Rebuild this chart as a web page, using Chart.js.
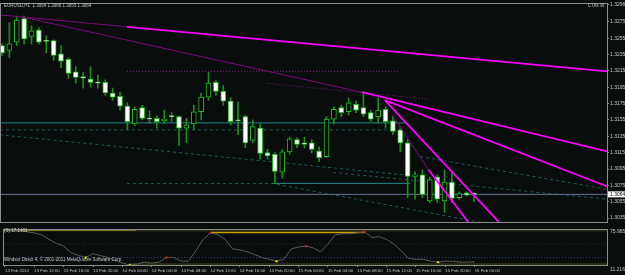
<!DOCTYPE html>
<html>
<head>
<meta charset="utf-8">
<script src="https://cdn.jsdelivr.net/npm/chart.js@4.4.1/dist/chart.umd.min.js"></script>
<style>
html, body { margin: 0; padding: 0; background: #090d0c; }
#wrap { width: 625px; height: 275px; overflow: hidden; }
canvas { display: block; }
</style>
</head>
<body>
<div id="wrap">
  <canvas id="priceChart" width="625" height="226"></canvas>
  <canvas id="oscChart" width="625" height="49"></canvas>
</div>
<script>
// EURUSD H1, 13 Feb 08:00 .. 16 Feb 00:00 (bar index 0..64)
var timeTicks = [0, 4, 8, 12, 16, 20, 24, 28, 32, 36, 40, 44, 48, 52, 56, 60, 64];
var timeLabels = ['13 Feb 2012', '13 Feb 12:00', '13 Feb 16:00', '13 Feb 20:00', '14 Feb 00:00', '14 Feb 04:00',
  '14 Feb 08:00', '14 Feb 12:00', '14 Feb 16:00', '14 Feb 20:00', '15 Feb 00:00', '15 Feb 04:00', '15 Feb 08:00',
  '15 Feb 12:00', '15 Feb 16:00', '15 Feb 20:00', '16 Feb 00:00'];

var opens  = [1.3246, 1.3240, 1.3250, 1.3279, 1.3257, 1.3265, 1.3252, 1.3252, 1.3236, 1.3229, 1.3214, 1.3208, 1.3205,
  1.3201, 1.3201, 1.3188, 1.3184, 1.3172, 1.3150, 1.3170, 1.3157, 1.3157, 1.3154, 1.3159, 1.3159, 1.3145, 1.3150,
  1.3165, 1.3183, 1.3201, 1.3190, 1.3178, 1.3155, 1.3159, 1.3130, 1.3145, 1.3115, 1.3113, 1.3091, 1.3116, 1.3131,
  1.3127, 1.3127, 1.3117, 1.3110, 1.3156, 1.3170, 1.3165, 1.3174, 1.3170, 1.3164, 1.3159, 1.3168, 1.3154, 1.3143,
  1.3127, 1.3086, 1.3088, 1.3056, 1.3085, 1.3056, 1.3079, 1.3060, 1.3066, 1.3064];
var highs  = [1.3248, 1.3274, 1.3282, 1.3282, 1.3270, 1.3268, 1.3258, 1.3253, 1.3246, 1.3231, 1.3220, 1.3213, 1.3220,
  1.3210, 1.3204, 1.3194, 1.3189, 1.3176, 1.3171, 1.3173, 1.3166, 1.3160, 1.3167, 1.3164, 1.3160, 1.3157, 1.3173,
  1.3188, 1.3213, 1.3203, 1.3197, 1.3182, 1.3177, 1.3161, 1.3155, 1.3150, 1.3119, 1.3115, 1.3119, 1.3134, 1.3133,
  1.3134, 1.3131, 1.3122, 1.3159, 1.3171, 1.3173, 1.3182, 1.3178, 1.3189, 1.3167, 1.3182, 1.3171, 1.3159, 1.3147,
  1.3131, 1.3092, 1.3094, 1.3085, 1.3088, 1.3094, 1.3091, 1.3067, 1.3067, 1.3066];
var lows   = [1.3234, 1.3231, 1.3246, 1.3248, 1.3248, 1.3248, 1.3237, 1.3228, 1.3219, 1.3206, 1.3200, 1.3194, 1.3195,
  1.3194, 1.3185, 1.3179, 1.3167, 1.3143, 1.3148, 1.3155, 1.3151, 1.3145, 1.3151, 1.3153, 1.3124, 1.3127, 1.3143,
  1.3155, 1.3179, 1.3185, 1.3173, 1.3149, 1.3137, 1.3121, 1.3127, 1.3107, 1.3107, 1.3077, 1.3084, 1.3113, 1.3121,
  1.3121, 1.3115, 1.3104, 1.3109, 1.3150, 1.3159, 1.3161, 1.3164, 1.3159, 1.3153, 1.3151, 1.3145, 1.3137, 1.3116,
  1.3060, 1.3058, 1.3060, 1.3054, 1.3054, 1.3042, 1.3054, 1.3058, 1.3062, 1.3055];
var closes = [1.3237, 1.3248, 1.3277, 1.3254, 1.3264, 1.3250, 1.3251, 1.3234, 1.3227, 1.3212, 1.3207, 1.3206, 1.3201,
  1.3200, 1.3188, 1.3183, 1.3172, 1.3153, 1.3168, 1.3157, 1.3156, 1.3153, 1.3156, 1.3159, 1.3145, 1.3149, 1.3165,
  1.3183, 1.3200, 1.3190, 1.3178, 1.3153, 1.3154, 1.3127, 1.3147, 1.3114, 1.3111, 1.3092, 1.3116, 1.3132, 1.3125,
  1.3125, 1.3119, 1.3109, 1.3156, 1.3168, 1.3164, 1.3176, 1.3167, 1.3162, 1.3156, 1.3167, 1.3153, 1.3141, 1.3127,
  1.3086, 1.3088, 1.3064, 1.3082, 1.3058, 1.3079, 1.3059, 1.3065, 1.3063, 1.3064];

var lastPrice = 1.3064;
var priceTicks = [1.3296, 1.3275, 1.3255, 1.3235, 1.3215, 1.3195, 1.3175, 1.3155, 1.3135, 1.3115, 1.3095, 1.3075,
  1.3055, 1.3035];

// oscillator, one value per bar
var oscValues = [75.9856, 74.2, 74.2, 72.5, 70.7, 67.2, 58.5, 51.5, 46.2, 34.0, 28.7, 25.2, 32.2, 28.7, 25.2, 20.0,
  14.7, 11.2164, 13.0, 16.5, 14.7, 16.5, 25.2, 25.2, 18.2, 18.2, 37.5, 58.5, 70.7, 67.2, 58.5, 41.0, 39.2, 35.7, 30.5,
  25.2, 21.7, 18.2, 21.7, 41.0, 44.5, 46.2, 42.7, 35.7, 49.7, 67.2, 69.0, 69.0, 70.7, 72.5, 62.0, 63.7, 58.5, 49.7,
  37.5, 23.5, 21.7, 21.7, 18.2, 16.5, 18.2, 18.2, 16.5, 16.5, 17.1481];
var oscLowMarks = [11, 17, 37, 59];
var oscHighMarks = [22, 28, 41, 49];
var oscMin = 11.2164, oscMax = 75.9856;
var oscLevels = [50, 25];

// drawn objects: [bar index, price] end points
var trendThick = [
  [[16.95, 1.32689], [82.03, 1.32144]],
  [[48.8, 1.31889], [82.2, 1.31162]],
  [[51.9, 1.31792], [82.2, 1.30732]],
  [[51.9, 1.31792], [67.5, 1.30290]],
  [[57.8, 1.30944], [63.3, 1.30290]]
];
var trendThin = [
  [[-0.3, 1.32835], [16.95, 1.32689]],
  [[2.7, 1.32811], [48.8, 1.31889]],
  [[52.9, 1.31611], [57.8, 1.30944]]
];
var dottedPurple = [
  [[16.95, 1.32144], [54.0, 1.32144]],
  [[35.9, 1.31998], [57.8, 1.31805]]
];
var tealSolid = [
  [[-0.3, 1.31514], [54.9, 1.31514]],
  [[36.6, 1.30774], [55.3, 1.30774]]
];
var tealDashed = [
  [[-0.3, 1.31429], [52.2, 1.31429]],
  [[16.95, 1.30774], [36.6, 1.30774]],
  [[-0.3, 1.31368], [55.3, 1.30871]],
  [[37.3, 1.30762], [64.8, 1.30300]],
  [[44.9, 1.30908], [82.2, 1.30580]],
  [[56.7, 1.31102], [82.2, 1.30700]]
];

var xMin = -0.136, xMax = 82.03;

function pts(seg) { return seg.map(function (p) { return { x: p[0], y: p[1] }; }); }
function lineSet(seg, color, width, dash, order) {
  return { type: 'line', data: pts(seg), borderColor: color, borderWidth: width, borderDash: dash || [],
    pointRadius: 0, fill: false, order: order, tension: 0 };
}

var bodies = [], wicks = [], bodyFill = [];
for (var i = 0; i < opens.length; i++) {
  bodies.push({ x: i, y: [opens[i], closes[i]] });
  wicks.push({ x: i, y: [lows[i], highs[i]] });
  bodyFill.push(closes[i] > opens[i] ? '#000000' : '#ffffff');
}

var priceSets = [];
tealSolid.forEach(function (s) { priceSets.push(lineSet(s, '#1f8a8a', 1, [], 6)); });
tealDashed.forEach(function (s) { priceSets.push(lineSet(s, '#1a5c5c', 1, [3, 3], 6)); });
priceSets.push(lineSet([[xMin, lastPrice], [xMax, lastPrice]], '#6b7394', 1, [], 5));
priceSets.push({ type: 'bar', data: wicks, backgroundColor: '#1a8f1a', barThickness: 1, grouped: false, order: 4 });
priceSets.push({ type: 'bar', data: bodies, backgroundColor: bodyFill, borderColor: '#22c022', borderWidth: 1,
  borderSkipped: false, barThickness: 5, grouped: false, minBarLength: 1, order: 3 });
dottedPurple.forEach(function (s) { priceSets.push(lineSet(s, '#7a1a7a', 1, [1, 2], 2)); });
trendThin.forEach(function (s) { priceSets.push(lineSet(s, '#7d0a7d', 1, [], 1)); });
trendThick.forEach(function (s) { priceSets.push(lineSet(s, '#ff00ff', 1.8, [], 0)); });

var textColor = '#c8c8c8';
var frameColor = '#8c8c8c';
var smallFont = '"Liberation Sans", Arial, sans-serif';

var panePlugin = {
  id: 'pane',
  afterDraw: function (chart, args, opts) {
    var ctx = chart.ctx, a = chart.chartArea;
    ctx.save();
    ctx.strokeStyle = frameColor;
    ctx.lineWidth = 1;
    ctx.strokeRect(a.left - 0.5, a.top - 0.5, a.right - a.left + 1, a.bottom - a.top + 1);
    ctx.fillStyle = textColor;
    ctx.textBaseline = 'top';
    ctx.font = '4.5px ' + smallFont;
    (opts.texts || []).forEach(function (t) {
      ctx.textAlign = t.align || 'left';
      ctx.fillText(t.text, t.x, t.y);
    });
    ctx.font = '5px ' + smallFont;
    if (opts.lastPrice) {
      var y = chart.scales.y.getPixelForValue(opts.lastPrice);
      ctx.fillStyle = '#ffffff';
      ctx.fillRect(a.right + 1, y - 3, 18, 6);
      ctx.fillStyle = '#000000';
      ctx.textAlign = 'left';
      ctx.textBaseline = 'middle';
      ctx.fillText(opts.lastPrice.toFixed(4), a.right + 3, y);
    }
    if (opts.oscLabels) {
      var sc = chart.scales.y;
      ctx.textBaseline = 'middle';
      ctx.textAlign = 'left';
      opts.oscLabels.forEach(function (l) {
        var yy = sc.getPixelForValue(l.value) + (l.shift || 0);
        if (l.box) {
          ctx.fillStyle = '#3a4a5a';
          ctx.fillRect(a.right + 2, yy - 3, 7, 6);
        }
        ctx.fillStyle = textColor;
        ctx.fillText(l.text, a.right + 3, yy);
      });
    }
    ctx.restore();
  }
};

new Chart(document.getElementById('priceChart'), {
  type: 'bar',
  data: { datasets: priceSets },
  plugins: [panePlugin],
  options: {
    responsive: false,
    animation: false,
    layout: { padding: { left: 1, top: 3, right: 0, bottom: 3 } },
    plugins: {
      legend: { display: false },
      tooltip: { enabled: false },
      pane: {
        lastPrice: lastPrice,
        texts: [
          { text: 'EURUSD,H1  1.3064 1.3066 1.3055 1.3064', x: 4, y: 4 },
          { text: 'CTAs \u2612', x: 604, y: 4, align: 'right' }
        ]
      }
    },
    scales: {
      x: { type: 'linear', min: xMin, max: xMax, offset: false, display: false },
      y: {
        position: 'right', min: 1.30302, max: 1.32968,
        afterBuildTicks: function (s) { s.ticks = priceTicks.map(function (v) { return { value: v }; }); },
        afterFit: function (s) { s.width = 18; },
        ticks: { color: textColor, font: { size: 5, family: smallFont }, padding: 1,
          callback: function (v) { return v.toFixed(4); } },
        grid: { drawOnChartArea: false, tickLength: 2, color: frameColor },
        border: { display: true, color: frameColor }
      }
    }
  }
});

var oscPts = oscValues.map(function (v, i) { return { x: i, y: v }; });
var lowPts = oscLowMarks.map(function (i) { return { x: i, y: oscValues[i] }; });
var highPts = oscHighMarks.map(function (i) { return { x: i, y: oscValues[i] }; });

new Chart(document.getElementById('oscChart'), {
  type: 'line',
  data: {
    datasets: [
      { data: highPts, showLine: false, pointRadius: 1.2, pointBackgroundColor: '#d02020', pointBorderWidth: 0, order: 0 },
      { data: lowPts, showLine: false, pointRadius: 1.2, pointBackgroundColor: '#e0d000', pointBorderWidth: 0, order: 0 },
      { data: oscPts, borderColor: '#5a5a5a', borderWidth: 1, pointRadius: 0, tension: 0, order: 1 },
      lineSet([[xMin, 74.5], [xMax, 74.5]], '#3c3c24', 1, [], 3),
      lineSet([[xMin, 75.4], [17.8, 75.4]], '#8a8420', 1, [], 2),
      lineSet([[28, 71.5], [49, 71.5]], '#c8a000', 1.5, [], 2),
      lineSet([[17, 13.0], [xMax, 13.0]], '#4a4a20', 1, [], 3),
      lineSet([[xMin, oscLevels[0]], [xMax, oscLevels[0]]], '#2a2e2e', 1, [1, 2], 4),
      lineSet([[xMin, oscLevels[1]], [xMax, oscLevels[1]]], '#34428a', 1, [1, 2], 4)
    ]
  },
  plugins: [panePlugin],
  options: {
    responsive: false,
    animation: false,
    layout: { padding: { left: 1, top: 2, right: 0, bottom: 0 } },
    plugins: {
      legend: { display: false },
      tooltip: { enabled: false },
      pane: {
        texts: [
          { text: '(S) 17.1481', x: 4, y: 3 },
          { text: 'Windsor Direct 4, \u00a9 2001-2011 MetaQuotes Software Corp.', x: 4, y: 32 }
        ],
        oscLabels: [
          { value: oscMax, text: oscMax.toFixed(4), shift: 2 },
          { value: oscLevels[0], text: '50', box: true },
          { value: oscLevels[1], text: '25', box: true },
          { value: oscMin, text: oscMin.toFixed(4), shift: 5 }
        ]
      }
    },
    scales: {
      x: {
        type: 'linear', min: xMin, max: xMax, offset: false,
        afterBuildTicks: function (s) { s.ticks = timeTicks.map(function (v) { return { value: v }; }); },
        afterFit: function (s) { s.height = 10; },
        ticks: { color: textColor, font: { size: 4.3, family: smallFont }, align: 'start', maxRotation: 0,
          autoSkip: false, padding: 1, callback: function (v, i) { return timeLabels[i]; } },
        grid: { drawOnChartArea: false, tickLength: 2, color: frameColor },
        border: { display: true, color: frameColor }
      },
      y: {
        position: 'right', min: oscMin, max: oscMax,
        afterFit: function (s) { s.width = 18; },
        ticks: { display: false },
        grid: { drawOnChartArea: false, drawTicks: false },
        border: { display: true, color: frameColor }
      }
    }
  }
});
</script>
</body>
</html>
